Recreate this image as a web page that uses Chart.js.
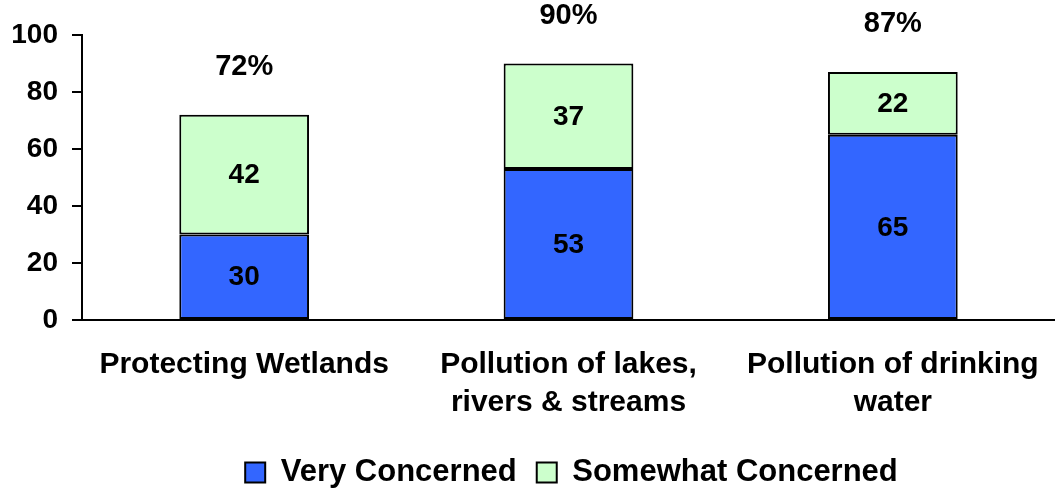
<!DOCTYPE html>
<html lang="en">
  <head>
    <meta charset="UTF-8">
    <title>Concern about water issues</title>
    <script src="https://cdn.jsdelivr.net/npm/chart.js"></script>
    <style>
      html, body { margin: 0; padding: 0; background: #fff; }
      #wrap { width: 1055px; height: 493px; }
    </style>
  </head>
  <body>
    <div id="wrap"><canvas id="barChart"></canvas></div>
    <script>
      const categories = [
        ['Protecting Wetlands'],
        ['Pollution of lakes,', 'rivers & streams'],
        ['Pollution of drinking', 'water']
      ];
      const veryConcerned = [30, 53, 65];
      const somewhatConcerned = [42, 37, 22];
      const yTicks = [0, 20, 40, 60, 80, 100];

      const FONT = '"Liberation Sans", Arial, sans-serif';

      // numbers inside each segment + total % on top of each stack
      const labelPlugin = {
        id: 'segmentLabels',
        afterLayout(chart) {
          // legend is centred under the plot area, and sits a bit lower
          chart.legend.left = chart.chartArea.left + 6;
          chart.legend.top += 5;
          chart.legend.bottom += 5;
        },
        afterDatasetsDraw(chart) {
          const ctx = chart.ctx;
          ctx.save();
          ctx.fillStyle = '#000';
          ctx.textAlign = 'center';
          ctx.textBaseline = 'middle';
          ctx.font = 'bold 28px ' + FONT;
          chart.data.datasets.forEach((ds, di) => {
            chart.getDatasetMeta(di).data.forEach((bar, i) => {
              const p = bar.getCenterPoint();
              ctx.fillText(ds.data[i], p.x, p.y + 1);
            });
          });
          ctx.font = 'bold 29px ' + FONT;
          const top = chart.getDatasetMeta(chart.data.datasets.length - 1).data;
          top.forEach((bar, i) => {
            const total = veryConcerned[i] + somewhatConcerned[i];
            ctx.fillText(total + '%', bar.x, bar.y - 48);
          });
          ctx.restore();
        }
      };

      new Chart(document.getElementById('barChart'), {
        type: 'bar',
        data: {
          labels: categories,
          datasets: [
            {
              label: 'Very Concerned',
              data: veryConcerned,
              backgroundColor: '#3366FF',
              borderColor: '#000',
              borderWidth: 2,
              borderSkipped: false,
              categoryPercentage: 1,
              barPercentage: 0.4
            },
            {
              label: 'Somewhat Concerned',
              data: somewhatConcerned,
              backgroundColor: '#CCFFCC',
              borderColor: '#000',
              borderWidth: 2,
              borderSkipped: false,
              categoryPercentage: 1,
              barPercentage: 0.4
            }
          ]
        },
        options: {
          responsive: true,
          maintainAspectRatio: false,
          animation: false,
          layout: { padding: { top: 35, right: 0, left: 0, bottom: 0 } },
          plugins: {
            tooltip: { enabled: false },
            legend: {
              position: 'bottom',
              labels: {
                color: '#000',
                font: { family: FONT, size: 31, weight: 'bold' },
                boxWidth: 20,
                boxHeight: 20,
                padding: 20
              }
            }
          },
          scales: {
            x: {
              stacked: true,
              grid: { display: true, drawOnChartArea: false, drawTicks: false },
              border: { display: true, color: '#000', width: 2 },
              ticks: {
                color: '#000',
                font: { family: FONT, size: 30, weight: 'bold', lineHeight: 1.27 },
                padding: 26,
                maxRotation: 0,
                autoSkip: false
              },
              afterFit(scale) {
                scale.height = 112;
                scale.paddingLeft = 0;
                scale.paddingRight = 0;
              }
            },
            y: {
              stacked: true,
              min: 0,
              max: 100,
              afterBuildTicks(scale) { scale.ticks = yTicks.map(v => ({ value: v })); },
              grid: { display: true, drawOnChartArea: false, tickLength: 10, color: '#000', lineWidth: 2 },
              border: { display: true, color: '#000', width: 2 },
              ticks: {
                color: '#000',
                font: { family: FONT, size: 28, weight: 'bold' },
                padding: 14
              },
              afterFit(scale) { scale.width = 82; }
            }
          }
        },
        plugins: [labelPlugin]
      });
    </script>
  </body>
</html>
